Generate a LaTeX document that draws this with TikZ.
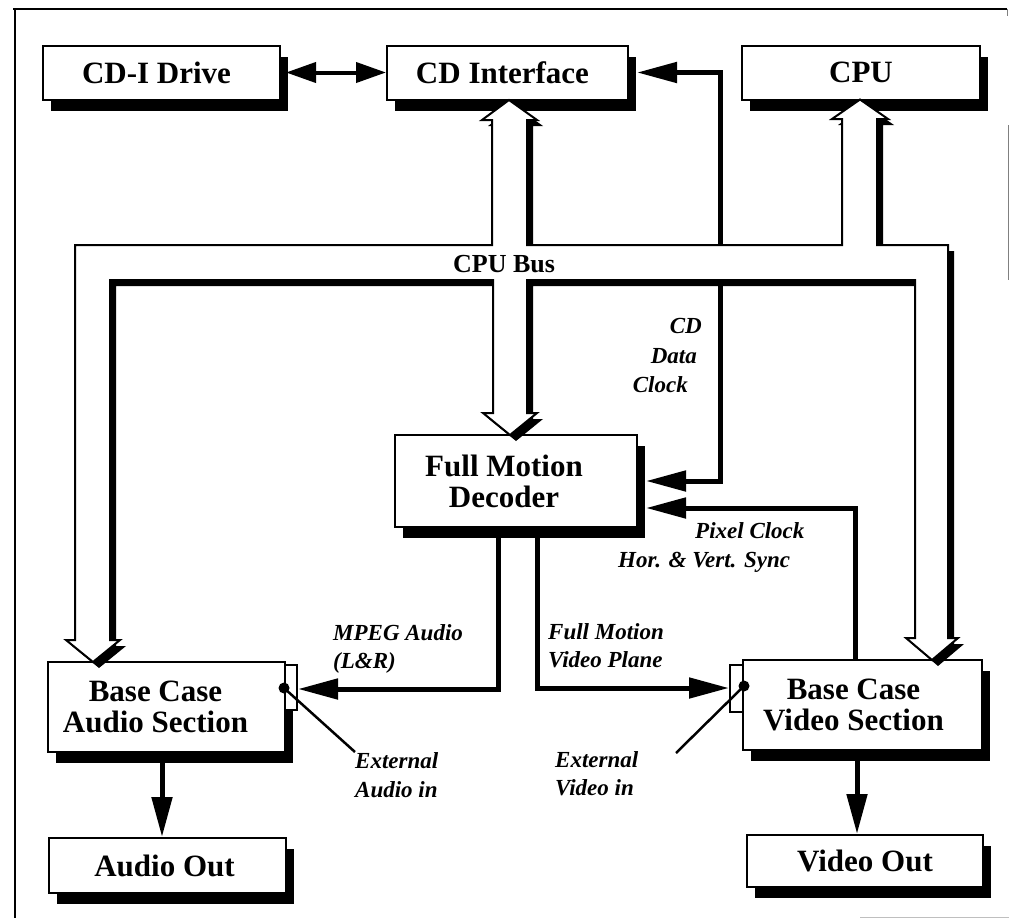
\documentclass[tikz,border=0pt]{standalone}
\usepackage{fontspec}
\setmainfont{Liberation Serif}
\usetikzlibrary{arrows.meta,shadows,calc}
\newcommand{\padr}[1]{\rule{#1}{0pt}}
\begin{document}
\begin{tikzpicture}[x=1pt,y=-1pt,
  box/.style={draw, line width=2pt, fill=white, inner sep=0pt, align=center,
    font=\fontsize{31}{31}\selectfont\bfseries,
    general shadow={fill=black, shadow xshift=8pt, shadow yshift=-11pt}},
  tab/.style={draw, line width=2pt, fill=white, inner sep=0pt},
  dot/.style={circle, fill=black, inner sep=0pt, minimum size=11pt},
  conn/.style={line width=5pt, -{Triangle[length=40pt,width=20pt]}},
  conntwo/.style={line width=5pt, {Triangle[length=40pt,width=20pt]}-{Triangle[length=40pt,width=20pt]}},
  lbl/.style={font=\fontsize{23}{28}\selectfont\bfseries\itshape, inner sep=0pt},
  thinline/.style={line width=2.5pt},
]
\useasboundingbox (0,0) rectangle (1009,918);

% frame
\draw[line width=1.5pt] (13,9) -- (1007,9);
\draw[line width=1.5pt] (15,9) -- (15,918);
\draw[line width=1pt, gray] (1007,9) -- (1007,16);
\draw[line width=1pt, gray] (1008,125) -- (1008,280);
\draw[line width=1pt, gray!50] (860,917) -- (1009,917);

% boxes
\node[box, minimum width=237pt, minimum height=54pt] (drive) at (161.5,72.5) {CD-I Drive\padr{10pt}};
\node[box, minimum width=241pt, minimum height=54pt] (cdif) at (507.5,72.5) {CD Interface\padr{10pt}};
\node[box, minimum width=238pt, minimum height=54pt] (cpu) at (861,72.5) {CPU};
\node[box, minimum width=242pt, minimum height=92pt] (fmd) at (516,481) {Full Motion\padr{24pt}\\Decoder\padr{24pt}};
\node[box, minimum width=237pt, minimum height=90pt] (audio) at (166.5,707) {Base Case\padr{22pt}\\Audio Section\padr{22pt}};
\node[box, minimum width=237pt, minimum height=55pt] (aout) at (167.5,865.5) {Audio Out\padr{6pt}};
\node[box, minimum width=239pt, minimum height=90pt] (video) at (862.5,705) {Base Case\padr{18pt}\\Video Section\padr{18pt}};
\node[box, minimum width=236pt, minimum height=52pt] (vout) at (865,861) {Video Out};

% tabs and dots
\node[tab, minimum width=12pt, minimum height=45pt] (atab) at (291,687.5) {};
\node[tab, minimum width=13pt, minimum height=47pt] (vtab) at (736.5,688.5) {};
\node[dot] (adot) at (284,688) {};
\node[dot] (vdot) at (744,686) {};

% CD data clock (crosses under the bus)
\coordinate (cdk) at (720,72.5);
\draw[conntwo] ([xshift=8pt]fmd.east) -| (cdk) -- ([xshift=8pt]cdif.east);

% CPU bus
\begin{scope}[shift={(6,6)}]
\fill[black] (75,640) -- (75,245) -- (492,245) -- (492,120) -- (482,120) -- (509,100) -- (537,120) -- (527,120) -- (527,245)
  -- (842,245) -- (842,119) -- (832,119) -- (860,99.5) -- (888,119) -- (877,119) -- (877,245) -- (948,245)
  -- (948,638) -- (958,638) -- (932,660) -- (906,638) -- (915,638) -- (915,280) -- (527,280) -- (527,413)
  -- (537,413) -- (510,435) -- (483,413) -- (493,413) -- (493,280) -- (110,280) -- (110,640) -- (120,640)
  -- (93,662) -- (66,640) -- cycle;
\end{scope}
\filldraw[fill=white, draw=black, line width=2pt, line join=miter] (75,640) -- (75,245) -- (492,245) -- (492,120) -- (482,120) -- (509,100) -- (537,120) -- (527,120) -- (527,245)
  -- (842,245) -- (842,119) -- (832,119) -- (860,99.5) -- (888,119) -- (877,119) -- (877,245) -- (948,245)
  -- (948,638) -- (958,638) -- (932,660) -- (906,638) -- (915,638) -- (915,280) -- (527,280) -- (527,413)
  -- (537,413) -- (510,435) -- (483,413) -- (493,413) -- (493,280) -- (110,280) -- (110,640) -- (120,640)
  -- (93,662) -- (66,640) -- cycle;
\node[font=\fontsize{26}{28}\selectfont\bfseries, inner sep=0pt, anchor=base west] (busl) at (453,272) {CPU Bus};

% connectors
\draw[line width=4pt, {Triangle[length=30pt,width=20pt]}-{Triangle[length=30pt,width=20pt]}]
  ([xshift=5pt]drive.east) -- (cdif.west);
\coordinate (pck) at (855,508);
\draw[conn] (video.north -| pck) -- (pck) -- ($(fmd.east)+(8,27)$);
\coordinate (mak) at (498,689);
\draw[conn] (fmd.south -| mak) -- (mak) -- (atab.east |- mak);
\coordinate (fvk) at (537,688);
\draw[conn] (fmd.south -| fvk) -- (fvk) -- (vtab.west |- fvk);
\coordinate (ea) at (355,752);
\coordinate (ev) at (676,753);
\draw[thinline] (adot.center) -- (ea);
\draw[thinline] (vdot.center) -- (ev);
\draw[conn] ([xshift=-4.5pt]audio.south) -- ([xshift=-5.5pt]aout.north);
\draw[conn] ([xshift=-5.5pt]video.south) -- ([xshift=-8pt]vout.north);

% labels
\node[lbl, anchor=base east] (l1) at (702,333) {CD};
\node[lbl, anchor=base east] (l2) at (697,363) {Data};
\node[lbl, anchor=base east] (l3) at (688,392) {Clock};
\node[lbl, anchor=base west] (l4) at (695,538) {Pixel Clock};
\node[lbl, anchor=base west] (l5) at (618,567) {Hor. \& Vert. Sync};
\node[lbl, anchor=base west] (l6) at (333,640) {MPEG Audio};
\node[lbl, anchor=base west] (l7) at (333,668) {(L\&R)};
\node[lbl, anchor=base west] (l8) at (548,639) {Full Motion};
\node[lbl, anchor=base west] (l9) at (548,667) {Video Plane};
\node[lbl, anchor=base west] (l10) at (355,768) {External};
\node[lbl, anchor=base west] (l11) at (355,797) {Audio in};
\node[lbl, anchor=base west] (l12) at (555,767) {External};
\node[lbl, anchor=base west] (l13) at (555,795) {Video in};
\end{tikzpicture}
\end{document}
